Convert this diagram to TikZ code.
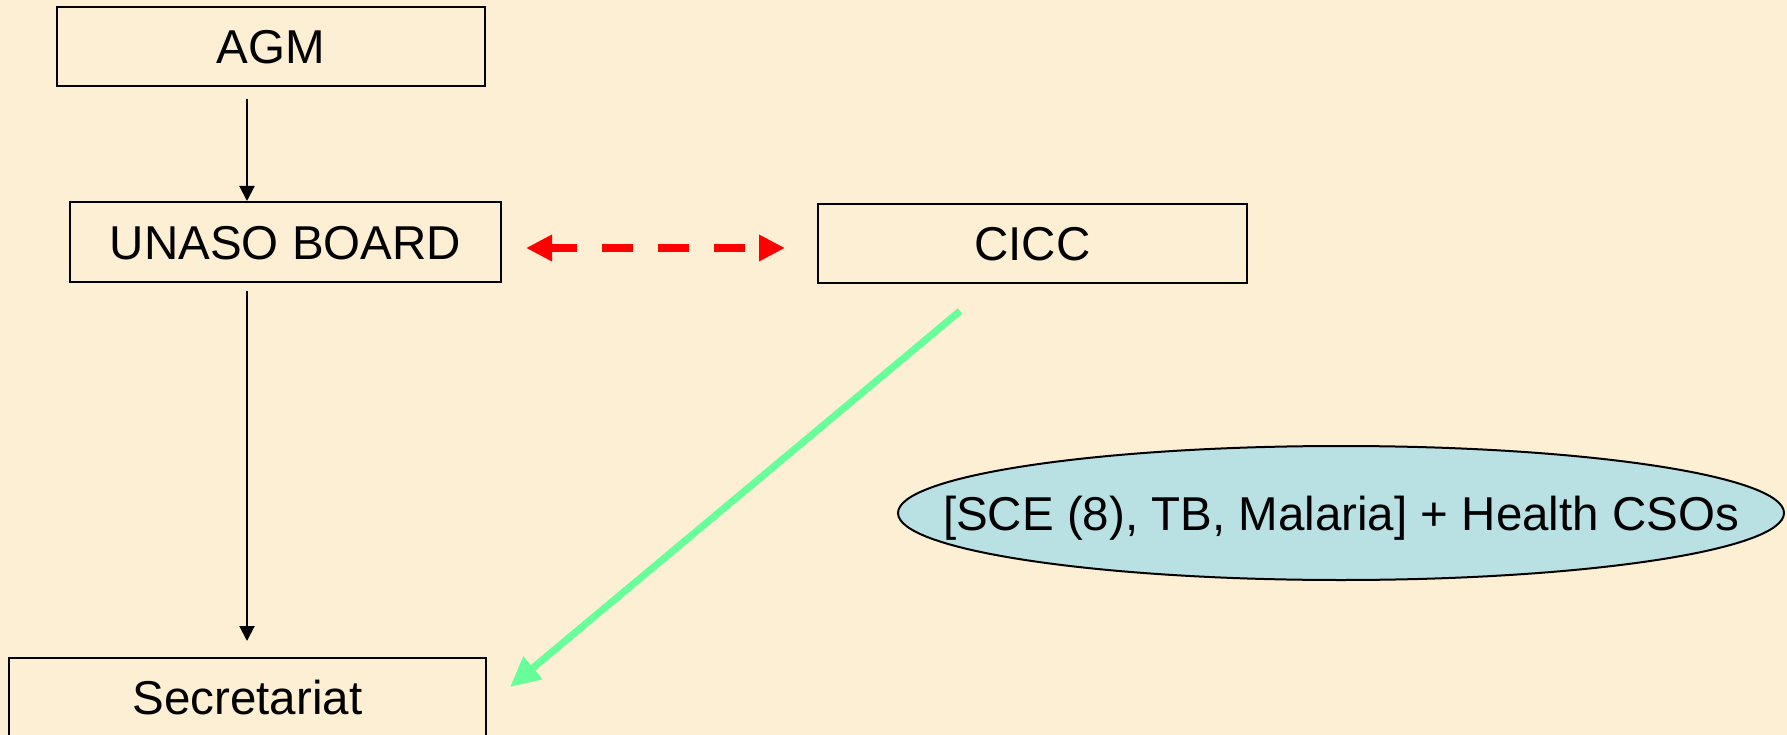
\documentclass[tikz,border=0pt]{standalone}
\usepackage{fontspec}
\setmainfont{Liberation Sans}
\usetikzlibrary{arrows.meta,shapes.geometric,calc}
\definecolor{bgcol}{RGB}{252,239,212}
\definecolor{ellfill}{RGB}{185,225,228}
\definecolor{grn}{RGB}{102,255,153}
\definecolor{redarr}{RGB}{255,0,0}
\tikzset{
  txtfont/.style={font=\fontsize{47.5}{50}\selectfont},
  orgbox/.style={draw=black, line width=2pt, inner sep=0pt, text height=34pt, text depth=0pt, txtfont},
  blkarrow/.style={line width=2pt, -{Triangle[length=15pt,width=15pt]}},
  redlink/.style={draw=redarr, line width=8pt, dash pattern=on 31pt off 25pt, dash phase=4pt,
     {Triangle[length=26pt,width=25pt]}-{Triangle[length=26pt,width=25pt]}},
  grnarrow/.style={draw=grn, line width=7pt, -{Triangle[length=30pt,width=28pt]}},
  ellbox/.style={ellipse, draw=black, line width=2pt, fill=ellfill, inner sep=0pt},
  plaintxt/.style={inner sep=0pt, text height=34pt, text depth=0pt, txtfont}
}
\begin{document}
\begin{tikzpicture}[x=1pt,y=-1pt]
\useasboundingbox (0,0) rectangle (1787,735);
\fill[bgcol] (0,0) rectangle (1787,735);

\node[orgbox, minimum width=428pt, minimum height=79pt] (AGM) at (271,46.5) {AGM};
\node[orgbox, minimum width=431pt, minimum height=80pt] (UNASO) at (285.5,242) {UNASO BOARD};
\node[orgbox, minimum width=429pt, minimum height=79pt] (CICC) at (1032.5,243.5) {CICC};
\node[orgbox, minimum width=477pt, minimum height=78pt] (SEC) at (247.5,697) {Secretariat};
\node[ellbox, minimum width=886pt, minimum height=134pt] (CSO) at (1341,513) {};
\node[plaintxt] (CSOtext) at (CSO.center) {[SCE (8), TB, Malaria] + Health CSOs};

\draw[blkarrow] ($(AGM.south)+(-24,12)$) -- ($(UNASO.north)+(-38.5,0)$);
\draw[blkarrow] ($(UNASO.south)+(-38.5,8)$) -- ($(SEC.north)+(-0.5,-16)$);
\draw[redlink] ($(UNASO.east)+(24,6)$) -- ($(CICC.west)+(-32,4.5)$);
\draw[grnarrow] ($(CICC.south)+(-72.5,27)$) -- ($(SEC.east)+(23,-10)$);
\end{tikzpicture}
\end{document}
